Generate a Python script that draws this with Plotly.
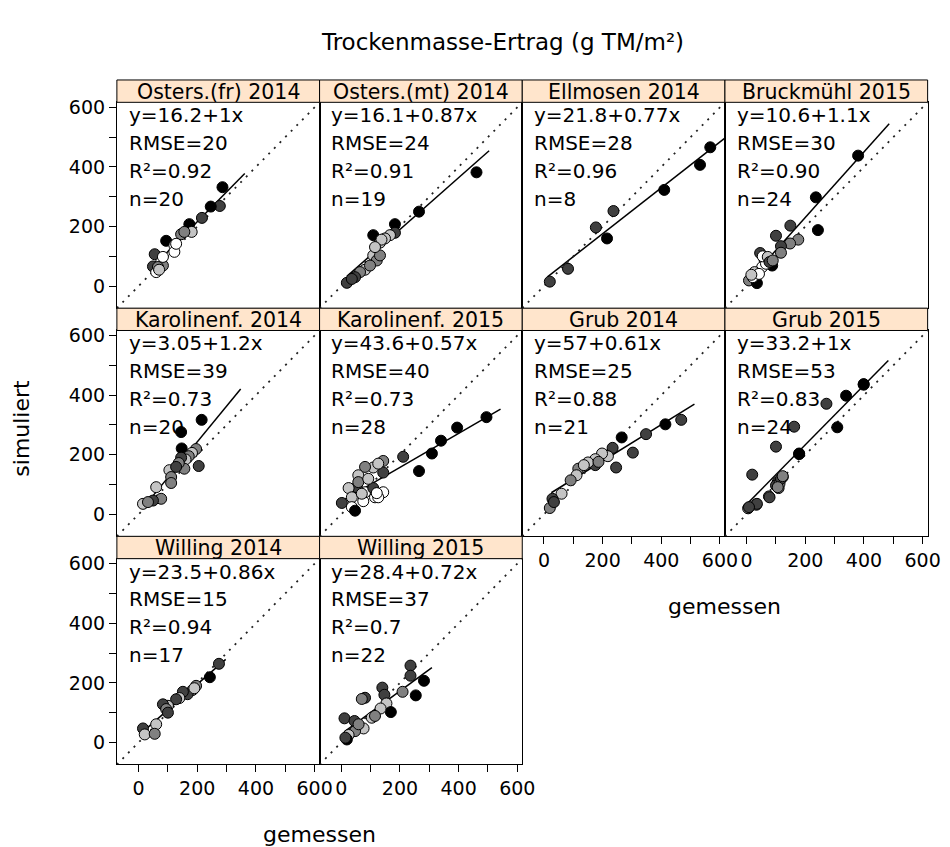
import plotly.graph_objects as go

# ---------------- data ----------------
panel_names = ["Osters.(fr) 2014", "Osters.(mt) 2014", "Ellmosen 2014", "Bruckmühl 2015",
               "Karolinenf. 2014", "Karolinenf. 2015", "Grub 2014", "Grub 2015",
               "Willing 2014", "Willing 2015"]
intercepts = [16.2, 16.1, 21.8, 10.6, 3.05, 43.6, 57, 33.2, 23.5, 28.4]
slopes = [1, 0.87, 0.77, 1.1, 1.2, 0.57, 0.61, 1, 0.86, 0.72]
rmse = [20, 24, 28, 30, 39, 40, 25, 53, 15, 37]
r2_labels = ["0.92", "0.91", "0.96", "0.90", "0.73", "0.73", "0.88", "0.83", "0.94", "0.7"]
n_obs = [20, 19, 8, 24, 20, 28, 21, 24, 17, 22]
line_from = [40, 19, 12, 20, 30, 0, 25, 5, 15, 10]
line_to = [362, 504, 700, 486, 348, 543, 513, 483, 297, 309]

# measured (gemessen), simulated (simuliert), fill group per point
meas_osters_fr = [286, 277, 246, 216, 173, 181, 145, 94, 122, 122, 55, 77, 49, 83, 60, 66, 83, 128, 156, 70]
sim_osters_fr = [332, 269, 267, 229, 208, 182, 174, 152, 137, 115, 107, 81, 66, 69, 47, 64, 98, 142, 182, 55]
grp_osters_fr = ["k", "d", "k", "d", "k", "l", "g", "k", "w", "w", "d", "w", "d", "g", "w", "g", "w", "w", "g", "l"]

meas_osters_mt = [461, 265, 183, 109, 183, 166, 149, 132, 109, 121, 132, 81, 64, 47, 19, 36, 98, 137, 115]
sim_osters_mt = [382, 250, 208, 171, 179, 171, 160, 146, 103, 86, 103, 55, 47, 30, 11, 24, 69, 156, 131]
grp_osters_mt = ["k", "k", "k", "k", "d", "l", "l", "l", "l", "g", "g", "l", "g", "d", "d", "d", "g", "l", "l"]

meas_ellmosen = [567, 532, 410, 237, 177, 215, 82, 20]
sim_ellmosen = [466, 407, 323, 252, 197, 160, 58, 15]
grp_ellmosen = ["k", "k", "k", "d", "d", "k", "d", "d"]

meas_bruck = [380, 236, 243, 149, 100, 176, 148, 117, 117, 46, 87, 61, 53, 66, 27, 8, 35, 21, 42, 55, 72, 16, 78, 89]
sim_bruck = [438, 298, 188, 203, 169, 156, 143, 134, 112, 111, 69, 88, 64, 75, 47, 19, 10, 30, 41, 100, 98, 38, 81, 86]
grp_bruck = ["k", "k", "k", "d", "d", "g", "g", "d", "g", "d", "k", "l", "w", "w", "l", "g", "k", "w", "w", "w", "l", "l", "d", "g"]

meas_karo14 = [215, 145, 147, 205, 196, 182, 171, 160, 145, 156, 137, 105, 111, 111, 60, 77, 49, 15, 32, 128]
sim_karo14 = [317, 276, 221, 162, 219, 206, 195, 184, 190, 153, 172, 148, 125, 105, 91, 52, 46, 35, 41, 159]
grp_karo14 = ["k", "k", "k", "d", "g", "l", "g", "l", "d", "g", "g", "l", "g", "g", "l", "g", "d", "l", "g", "d"]

meas_karo15 = [495, 395, 340, 309, 265, 211, 143, 143, 109, 81, 58, 126, 53, 25, 36, 2, 36, 47, 75, 115, 143, 126, 81, 109, 58, 92, 121, 70]
sim_karo15 = [326, 291, 247, 204, 145, 193, 179, 140, 157, 159, 131, 170, 91, 88, 57, 38, 24, 12, 44, 57, 74, 57, 74, 88, 108, 119, 71, 69]
grp_karo15 = ["k", "k", "k", "k", "k", "d", "g", "d", "l", "g", "l", "l", "d", "l", "l", "d", "w", "k", "w", "w", "w", "w", "w", "d", "g", "l", "w", "l"]

meas_grub14 = [468, 414, 348, 303, 246, 265, 234, 218, 198, 175, 175, 150, 117, 111, 91, 60, 29, 20, 186, 136, 34]
sim_grub14 = [317, 302, 269, 207, 157, 258, 223, 195, 204, 185, 165, 174, 153, 131, 114, 69, 52, 21, 176, 165, 41]
grp_grub14 = ["d", "k", "d", "d", "d", "k", "d", "l", "l", "l", "d", "l", "g", "l", "g", "l", "d", "g", "g", "l", "d"]

meas_grub15 = [399, 339, 272, 309, 162, 100, 179, 19, 123, 106, 109, 100, 76, 33, 5, 112, 117, 78, 35, 8, 106, 179, 399, 123]
sim_grub15 = [437, 398, 371, 292, 294, 227, 202, 133, 125, 108, 88, 97, 60, 32, 20, 103, 119, 57, 35, 24, 91, 204, 435, 128]
grp_grub15 = ["k", "k", "d", "k", "d", "d", "k", "d", "g", "d", "g", "d", "g", "g", "g", "g", "d", "d", "d", "d", "g", "k", "k", "g"]

meas_willing14 = [274, 243, 196, 184, 167, 151, 139, 128, 100, 83, 94, 100, 60, 15, 21, 55, 190]
sim_willing14 = [264, 219, 190, 176, 162, 170, 149, 145, 123, 128, 112, 100, 61, 47, 27, 29, 182]
grp_willing14 = ["d", "k", "g", "g", "d", "d", "l", "d", "l", "d", "g", "d", "l", "d", "l", "g", "l"]

meas_willing15 = [236, 236, 282, 209, 254, 140, 147, 154, 169, 134, 104, 81, 70, 11, 45, 76, 47, 25, 19, 14, 115, 59]
sim_willing15 = [258, 224, 207, 170, 158, 184, 160, 131, 102, 114, 83, 150, 146, 81, 72, 47, 38, 25, 10, 16, 89, 61]
grp_willing15 = ["d", "d", "k", "g", "k", "d", "d", "l", "k", "l", "l", "d", "g", "d", "d", "l", "g", "l", "k", "d", "g", "g"]

measured = [meas_osters_fr, meas_osters_mt, meas_ellmosen, meas_bruck, meas_karo14,
            meas_karo15, meas_grub14, meas_grub15, meas_willing14, meas_willing15]
simulated = [sim_osters_fr, sim_osters_mt, sim_ellmosen, sim_bruck, sim_karo14,
             sim_karo15, sim_grub14, sim_grub15, sim_willing14, sim_willing15]
groups = [grp_osters_fr, grp_osters_mt, grp_ellmosen, grp_bruck, grp_karo14,
          grp_karo15, grp_grub14, grp_grub15, grp_willing14, grp_willing15]

tick_values = [0, 100, 200, 300, 400, 500, 600]
tick_labels = ["0", "", "200", "", "400", "", "600"]
axis_range = [-74, 617]

# ---------------- styling / layout ----------------
W, H = 950, 847
FONT = "DejaVu Sans, Verdana, sans-serif"
fill_colors = {"k": "#000000", "d": "#404040", "g": "#808080", "l": "#c4c4c4", "w": "#ffffff"}

col_left0, col_w = 118.5, 205.5
row_top0, row_h, strip_h = 74.5, 229.8, 22.5

def px_x(px):
    return px / W

def px_y(py):
    return 1 - py / H

fig = go.Figure()
shapes = []
annotations = []

for i, name in enumerate(panel_names):
    r, c = divmod(i, 4)
    left = col_left0 + c * col_w
    right = left + col_w
    top = row_top0 + r * row_h
    ptop = top + strip_h
    bottom = top + row_h
    k = i + 1
    xa = "x" if k == 1 else f"x{k}"
    ya = "y" if k == 1 else f"y{k}"

    # regression line
    xs = [line_from[i], line_to[i]]
    ys = [intercepts[i] + slopes[i] * v for v in xs]
    fig.add_trace(go.Scatter(x=xs, y=ys, mode="lines", xaxis=xa, yaxis=ya,
                             line=dict(color="black", width=1.5), hoverinfo="skip"))
    # 1:1 line
    fig.add_trace(go.Scatter(x=axis_range, y=axis_range, mode="lines", xaxis=xa, yaxis=ya,
                             line=dict(color="#222222", width=1.8, dash="2px,6px"),
                             hoverinfo="skip"))
    # points
    fig.add_trace(go.Scatter(x=measured[i], y=simulated[i], mode="markers", xaxis=xa, yaxis=ya,
                             marker=dict(size=11, color=[fill_colors[g] for g in groups[i]],
                                         line=dict(color="black", width=1))))

    is_left = (c == 0)
    is_bottom = (r == 2) or (r == 1 and c >= 2)
    xdom = [px_x(left), px_x(right)]
    ydom = [px_y(bottom), px_y(ptop)]
    fig.layout[f"xaxis{'' if k == 1 else k}"] = dict(
        domain=xdom, range=axis_range, anchor=ya, showgrid=False, zeroline=False,
        showline=True, mirror=True, linecolor="black", linewidth=1,
        tickvals=tick_values, ticktext=tick_labels,
        ticks="outside" if is_bottom else "", ticklen=7, tickcolor="black",
        showticklabels=is_bottom, tickfont=dict(family=FONT, size=19, color="black"))
    fig.layout[f"yaxis{'' if k == 1 else k}"] = dict(
        domain=ydom, range=axis_range, anchor=xa, showgrid=False, zeroline=False,
        showline=True, mirror=True, linecolor="black", linewidth=1,
        tickvals=tick_values, ticktext=tick_labels,
        ticks="outside" if is_left else "", ticklen=7, tickcolor="black",
        showticklabels=is_left, tickfont=dict(family=FONT, size=19, color="black"))

    # strip
    shapes.append(dict(type="rect", xref="paper", yref="paper",
                       x0=px_x(left), x1=px_x(right), y0=px_y(ptop), y1=px_y(top),
                       fillcolor="#FFE5CC", line=dict(color="black", width=1)))
    annotations.append(dict(xref="paper", yref="paper", x=px_x((left + right) / 2),
                            y=px_y(top + strip_h / 2 + 0.5), text=name, showarrow=False,
                            xanchor="center", yanchor="middle",
                            font=dict(family=FONT, size=20.5, color="black")))
    # stats text
    lines = [f"y={intercepts[i]:g}+{slopes[i]:g}x", f"RMSE={rmse[i]}",
             f"R²={r2_labels[i]}", f"n={n_obs[i]}"]
    for j, t in enumerate(lines):
        annotations.append(dict(xref="paper", yref="paper", x=px_x(left + 10),
                                y=px_y(ptop + 13 + 28 * j), text=t, showarrow=False,
                                xanchor="left", yanchor="middle",
                                font=dict(family=FONT, size=20, color="black")))

# titles
annotations.append(dict(xref="paper", yref="paper", x=px_x(509), y=px_y(36),
                        text="Trockenmasse-Ertrag (g TM/m²)", showarrow=False,
                        xanchor="center", yanchor="middle",
                        font=dict(family=FONT, size=23, color="black")))
annotations.append(dict(xref="paper", yref="paper", x=px_x(22), y=px_y(425),
                        text="simuliert", showarrow=False, textangle=-90,
                        xanchor="center", yanchor="middle",
                        font=dict(family=FONT, size=22, color="black")))
annotations.append(dict(xref="paper", yref="paper", x=px_x(324), y=px_y(834),
                        text="gemessen", showarrow=False,
                        xanchor="center", yanchor="middle",
                        font=dict(family=FONT, size=22, color="black")))
annotations.append(dict(xref="paper", yref="paper", x=px_x(735), y=px_y(605),
                        text="gemessen", showarrow=False,
                        xanchor="center", yanchor="middle",
                        font=dict(family=FONT, size=22, color="black")))

fig.update_layout(width=W, height=H, margin=dict(l=0, r=0, t=0, b=0),
                  paper_bgcolor="white", plot_bgcolor="white", showlegend=False,
                  shapes=shapes, annotations=annotations)

fig.write_html("out.html")
